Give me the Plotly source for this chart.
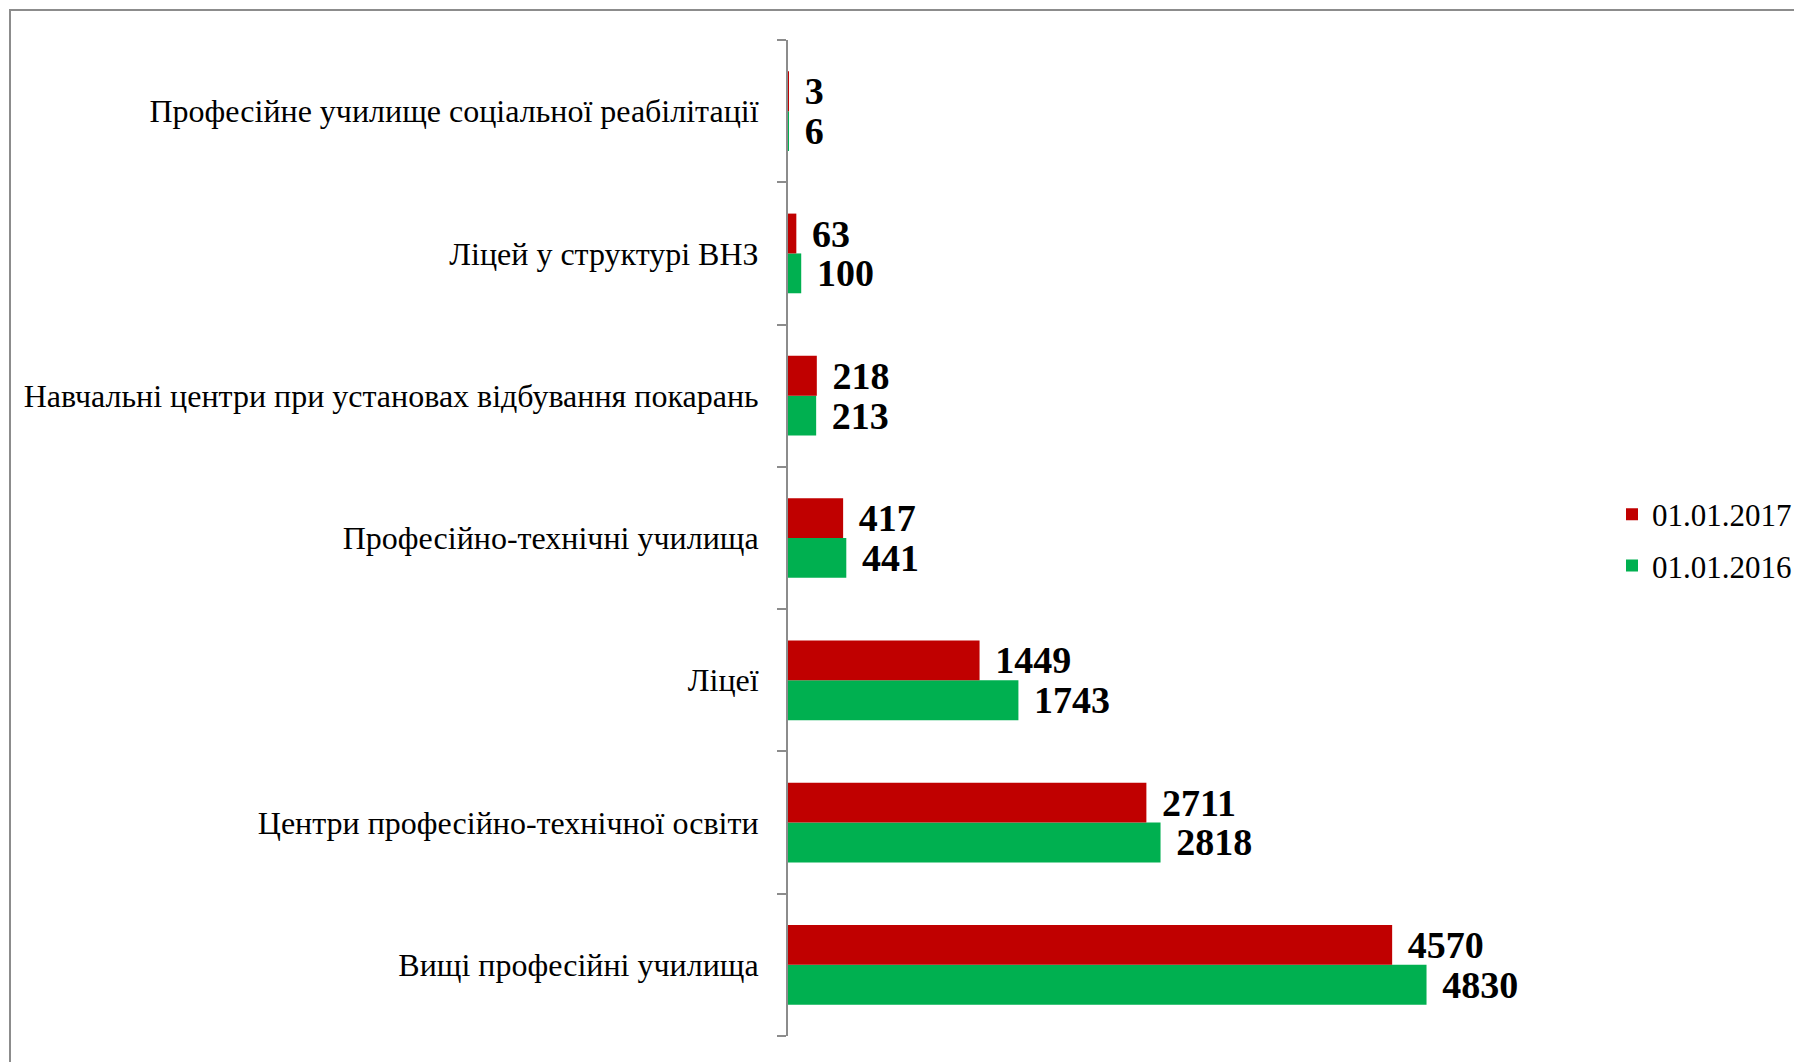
import plotly.graph_objects as go

categories = [
    "Вищі професійні училища",
    "Центри професійно-технічної освіти",
    "Ліцеї",
    "Професійно-технічні училища",
    "Навчальні центри при установах відбування покарань",
    "Ліцей у структурі ВНЗ",
    "Професійне училище соціальної реабілітації",
]
values_2017 = [4570, 2711, 1449, 417, 218, 63, 3]
values_2016 = [4830, 2818, 1743, 441, 213, 100, 6]
series_names = ["01.01.2017", "01.01.2016"]

RED = "#C00000"
GREEN = "#00B050"
SERIF = "Liberation Serif, Times New Roman, serif"

OFF = 8  # browser body margin
W, H = 1802 - OFF, 1062 - OFF
L, T = 788 - OFF, 40 - OFF
PR, PB = W, 1036 - OFF  # plot right / bottom in figure px
R, B = W - PR, H - PB
pw, ph = PR - L, PB - T
XMAX = pw / 0.1322

def px_x(x):
    return (x - OFF - L) / pw

def px_y(y):
    return (PB - (y - OFF)) / ph

label_font = dict(family=SERIF, size=38, color="black", weight="bold")

fig = go.Figure()
fig.add_trace(go.Bar(
    y=categories, x=values_2016, orientation="h", name=series_names[1],
    legendgroup="g2016", legendrank=2,
    marker=dict(color=GREEN, line=dict(width=0)),
    texttemplate="\u00a0\u200a%{x}", textposition="outside", constraintext="none",
    cliponaxis=False, textfont=label_font,
))
fig.add_trace(go.Bar(
    y=categories, x=values_2017, orientation="h", name=series_names[0],
    legendgroup="g2017", legendrank=1,
    marker=dict(color=RED, line=dict(width=0)),
    texttemplate="\u00a0\u200a%{x}", textposition="outside", constraintext="none",
    cliponaxis=False, textfont=label_font,
))

fig.update_layout(
    width=W, height=H,
    margin=dict(l=L, r=R, t=T, b=B, pad=0),
    barmode="group", bargap=0.44, bargroupgap=0,
    plot_bgcolor="rgba(0,0,0,0)", paper_bgcolor="white",
    font=dict(family=SERIF, color="black"),
    xaxis=dict(visible=False, range=[0, XMAX]),
    yaxis=dict(
        categoryorder="array", categoryarray=categories,
        showline=True, linecolor="#8C8C8C", linewidth=2,
        ticks="outside", tickson="boundaries", ticklen=9,
        tickcolor="#8C8C8C", tickwidth=2,
        showgrid=False, zeroline=False,
        tickfont=dict(family=SERIF, size=32, color="black"),
        ticklabelstandoff=21,
    ),
    legend=dict(
        x=px_x(1612), y=px_y(540), xanchor="left", yanchor="middle",
        traceorder="grouped",
        font=dict(family=SERIF, size=31, color="black"),
        itemwidth=30, tracegroupgap=8, borderwidth=0,
        bgcolor="rgba(0,0,0,0)",
    ),
    shapes=[dict(
        type="rect", xref="paper", yref="paper",
        x0=px_x(10), x1=px_x(1830), y0=px_y(1090), y1=px_y(10),
        line=dict(color="#8C8C8C", width=2), fillcolor="rgba(0,0,0,0)",
        layer="below",
    )],
)

fig.write_html("out.html")
